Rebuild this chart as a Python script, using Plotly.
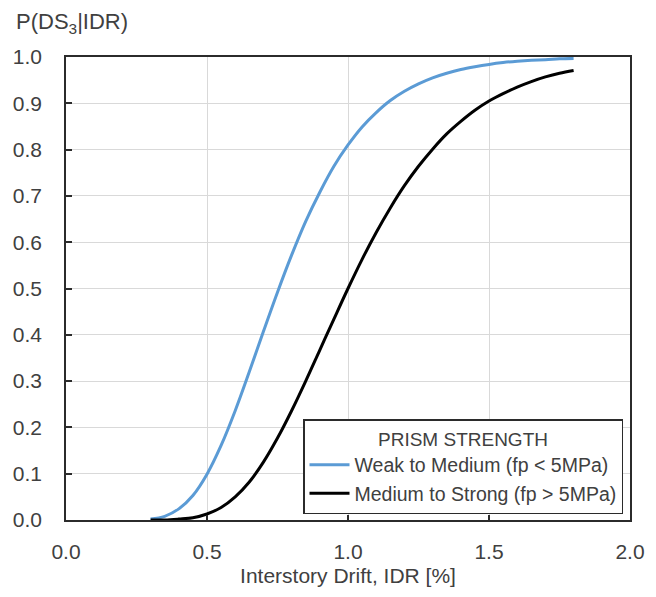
import plotly.graph_objects as go

# Interstory drift values [%]
idr = [0.30, 0.35, 0.40, 0.45, 0.50, 0.55, 0.60, 0.65, 0.70, 0.75, 0.80,
       0.85, 0.90, 0.95, 1.00, 1.05, 1.10, 1.15, 1.20, 1.25, 1.30, 1.35,
       1.40, 1.45, 1.50, 1.55, 1.60, 1.65, 1.70, 1.75, 1.80]

# Weak to Medium (fp < 5MPa)
p_weak = [0.002, 0.008, 0.024, 0.053, 0.099, 0.161, 0.236, 0.320, 0.407, 0.492, 0.572,
          0.645, 0.708, 0.764, 0.810, 0.849, 0.880, 0.906, 0.926, 0.942, 0.955, 0.965,
          0.973, 0.979, 0.984, 0.988, 0.991, 0.993, 0.994, 0.996, 0.997]

# Medium to Strong (fp > 5MPa)
p_strong = [0.000, 0.000, 0.002, 0.005, 0.013, 0.027, 0.050, 0.082, 0.125, 0.177, 0.236,
            0.300, 0.367, 0.434, 0.500, 0.563, 0.621, 0.674, 0.722, 0.764, 0.801, 0.834,
            0.861, 0.885, 0.905, 0.921, 0.935, 0.947, 0.957, 0.965, 0.971]

x_ticks = [0.0, 0.5, 1.0, 1.5, 2.0]
y_ticks = [0.0, 0.1, 0.2, 0.3, 0.4, 0.5, 0.6, 0.7, 0.8, 0.9, 1.0]

FONT = "Liberation Sans, Arial, sans-serif"
TXT = "#404040"
AX = "#2b2b2b"

fig = go.Figure()
fig.add_trace(go.Scatter(x=idr, y=p_weak, mode="lines", line_shape="spline",
                         name="Weak to Medium (fp < 5MPa)",
                         line=dict(color="#5B9BD5", width=3)))
fig.add_trace(go.Scatter(x=idr, y=p_strong, mode="lines", line_shape="spline",
                         name="Medium to Strong (fp > 5MPa)",
                         line=dict(color="#000000", width=3)))

fig.update_layout(
    width=656, height=597,
    margin=dict(l=66, r=26, t=57, b=77),
    paper_bgcolor="white", plot_bgcolor="white",
    font=dict(family=FONT, size=21, color=TXT),
    showlegend=True,
    legend=dict(
        title=dict(text="PRISM STRENGTH", side="top center",
                   font=dict(family=FONT, size=19, color=TXT)),
        x=0.9876, xanchor="right", y=0.012, yanchor="bottom",
        bordercolor=AX, borderwidth=1.5, bgcolor="white",
        font=dict(family=FONT, size=19.5, color=TXT),
        itemwidth=40, tracegroupgap=0,
    ),
    annotations=[dict(text="P(DS<sub>3</sub>|IDR)", xref="paper", yref="paper",
                      x=-0.093, y=1.073, xanchor="left", yanchor="middle",
                      showarrow=False, font=dict(family=FONT, size=22, color=TXT))],
)

fig.update_xaxes(range=[0, 2.0], tickvals=x_ticks, tickformat=".1f",
                 showgrid=True, gridcolor="#d9d9d9", gridwidth=1,
                 showline=True, linecolor=AX, linewidth=1.5, mirror=True,
                 ticks="inside", ticklen=5, tickcolor=AX, tickwidth=1.5,
                 ticklabelstandoff=12, zeroline=False,
                 title=dict(text="Interstory Drift, IDR [%]", standoff=6,
                            font=dict(family=FONT, size=21, color=TXT)))
fig.update_yaxes(range=[0, 1.0], tickvals=y_ticks, tickformat=".1f",
                 showgrid=True, gridcolor="#d9d9d9", gridwidth=1,
                 showline=True, linecolor=AX, linewidth=1.5, mirror=True,
                 ticks="inside", ticklen=6, tickcolor=AX, tickwidth=1.5,
                 ticklabelstandoff=18, zeroline=False)

fig.write_html("out.html")
